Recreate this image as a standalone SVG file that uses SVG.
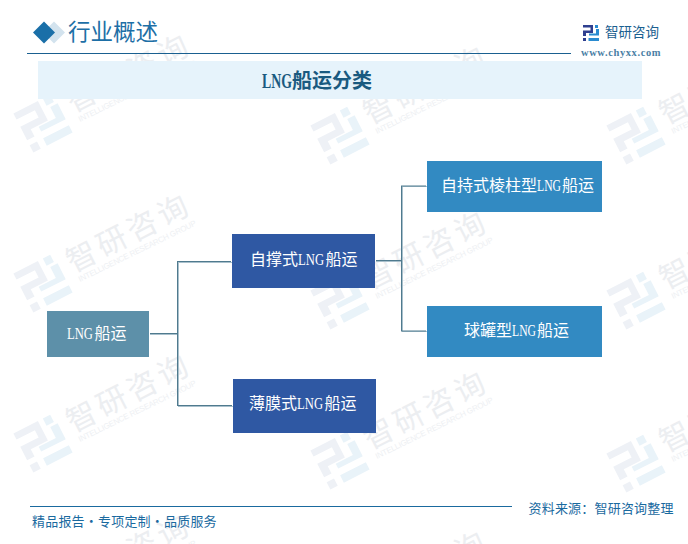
<svg xmlns="http://www.w3.org/2000/svg" width="688" height="544" viewBox="0 0 688 544">
<style>
text{font-family:"Noto Sans CJK SC","Liberation Serif",serif}
.lat{font-family:"Liberation Serif","Noto Sans CJK SC",serif}
.n{font-size:16px;fill:#fff}
.b{fill:none;stroke:#4f7a8e;stroke-width:1}
.s{fill:none;stroke:#a9c0cc;stroke-width:1}
.wt{font-size:30px;fill:#eceef1;letter-spacing:4px}
.we{font-family:"Liberation Sans",sans-serif;font-size:8px;fill:#eef0f3}
</style>
<defs>
<g id="logo">
<path d="M0 0H10V8H3V11H0V5.500H7.500V2.500H0ZM0 13H3V16H0Z"/>
<path d="M12 0H15V3H12ZM13 4H16V10.500H6V8.500H13ZM5.500 13H16V16H5.500Z" fill="currentColor"/>
</g>
<g id="wm">
<use href="#logo" transform="translate(-134,73) rotate(-27) scale(2.75) translate(-8,-8)" fill="#eef1f6" color="#e9f3f9"/>
<text class="wt" x="-104" y="63" transform="rotate(-27 -104 63)">智研咨询</text>
<text class="we" x="-97" y="72" transform="rotate(-26 -97 72)" textLength="130">INTELLIGENCE RESEARCH GROUP</text>
</g>
</defs>
<rect width="688" height="544" fill="#fff"/>
<g id="watermarks">
<use href="#wm" x="177" y="50"/><use href="#wm" x="177" y="210"/><use href="#wm" x="177" y="370"/><use href="#wm" x="177" y="530"/>
<use href="#wm" x="474" y="62"/><use href="#wm" x="474" y="227"/><use href="#wm" x="474" y="387"/><use href="#wm" x="474" y="547"/>
<use href="#wm" x="770" y="62"/><use href="#wm" x="770" y="227"/><use href="#wm" x="770" y="390"/><use href="#wm" x="770" y="550"/>
</g>
<g id="header">
<path d="M44 21.500L55 32.500L44 43.500L33 32.500Z" fill="#d3e3ee" transform="translate(10 0)"/>
<path d="M44 21.500L55 32.500L44 43.500L33 32.500Z" fill="#1a6fa8"/>
<text x="68" y="40" font-size="22.500" fill="#1d6fa6">行业概述</text>
<path d="M27 53.500H571" stroke="#1a6090" stroke-width="1"/>
<rect x="571" y="0" width="117" height="62" fill="#fff"/>
<rect x="38" y="61" width="604" height="38" fill="#e6f3fb"/>
<text x="262" y="88" font-size="20" font-weight="700" fill="#1a5a80"><tspan class="lat" textLength="30" lengthAdjust="spacingAndGlyphs">LNG</tspan>船运分类</text>
</g>
<g id="brand">
<use href="#logo" transform="translate(583,25)" fill="#2f3f8f" color="#2a8bd0"/>
<text x="605" y="37" font-size="13.500" fill="#1a6090">智研咨询</text>
<text class="lat" x="581" y="55.500" font-size="10.500" font-weight="700" letter-spacing=".6" fill="#4a7fa5">www.chyxx.com</text>
</g>
<g id="connectors">
<path class="s" d="M150 334.500H178.500M178.500 262V407M178 262.500H232M178 406.500H233M376 261.500H402.500M402.500 187V332M402 186.500H427M402 331.500H427"/>
<path class="b" d="M150 333.500H177.500M177.500 261V406M177 261.500H231M177 405.500H232M376 260.500H401.500M401.500 186V331M401 186H426M401 331H426"/>
</g>
<g id="n1"><rect x="47" y="311" width="102" height="46" fill="#5d90a9"/>
<text class="n" x="67" y="339"><tspan class="lat" textLength="26" lengthAdjust="spacingAndGlyphs">LNG</tspan><tspan dx="1.500">船运</tspan></text></g>
<g id="n2"><rect x="232" y="234" width="143" height="54" fill="#2f58a3"/>
<text class="n" x="250" y="265">自撑式<tspan class="lat" textLength="26" lengthAdjust="spacingAndGlyphs">LNG</tspan><tspan dx="1.500">船运</tspan></text></g>
<g id="n3"><rect x="233" y="379" width="143" height="54" fill="#2f58a3"/>
<text class="n" x="249" y="409">薄膜式<tspan class="lat" textLength="26" lengthAdjust="spacingAndGlyphs">LNG</tspan><tspan dx="1.500">船运</tspan></text></g>
<g id="n4"><rect x="427" y="161" width="175" height="51" fill="#328ac2"/>
<text class="n" x="441" y="191">自持式棱柱型<tspan class="lat" textLength="24" lengthAdjust="spacingAndGlyphs">LNG</tspan><tspan dx="1">船运</tspan></text></g>
<g id="n5"><rect x="427" y="306" width="175" height="51" fill="#328ac2"/>
<text class="n" x="464" y="336">球罐型<tspan class="lat" textLength="24" lengthAdjust="spacingAndGlyphs">LNG</tspan><tspan dx="1">船运</tspan></text></g>
<g id="footer">
<path d="M30 506.500H512" stroke="#1a6a9f" stroke-width="1"/>
<text x="32" y="526" font-size="13" letter-spacing=".2" fill="#1a6a9f">精品报告・专项定制・品质服务</text>
<text x="528.500" y="513" font-size="13" letter-spacing=".2" fill="#1a6a9f">资料来源：智研咨询整理</text>
</g>
</svg>
